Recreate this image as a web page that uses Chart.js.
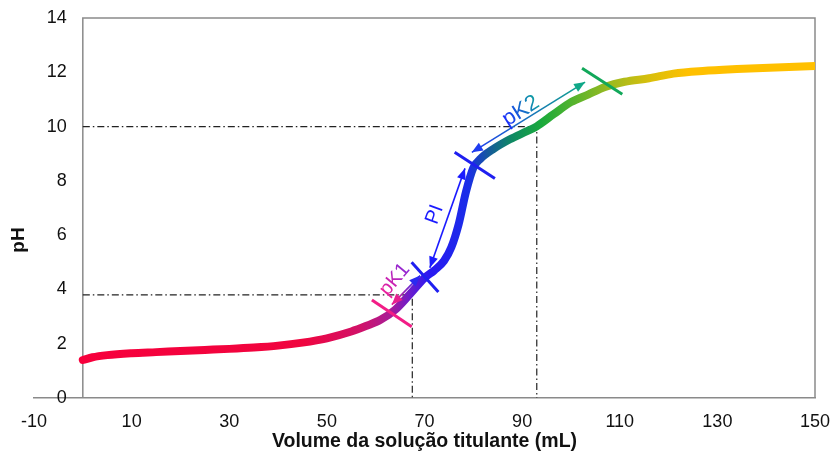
<!DOCTYPE html>
<html>
<head>
<meta charset="utf-8">
<script src="https://cdn.jsdelivr.net/npm/chart.js@4.4.0/dist/chart.umd.min.js"></script>
<style>
  html, body { margin: 0; padding: 0; background: #fff; }
  canvas { display: block; }
</style>
</head>
<body>
<canvas id="titrationChart" width="833" height="452"></canvas>
<script>
  // titration curve: volume of titrant (mL) vs pH
  const volume = [0, 2, 5, 10, 15, 20, 25, 30, 35, 40, 45, 50, 55, 58, 61, 64, 67, 70, 72, 74,
    75.5, 77, 78.5, 80, 81.5, 84, 87.5, 91, 93, 96.5, 100, 103.5, 107, 111, 116, 121, 127, 134, 142, 150];
  const pH = [1.40, 1.50, 1.58, 1.65, 1.69, 1.73, 1.77, 1.81, 1.86, 1.93, 2.04, 2.20, 2.45, 2.65, 2.88, 3.25, 3.82, 4.42, 4.70, 5.05,
    5.55, 6.40, 7.60, 8.48, 8.82, 9.16, 9.53, 9.83, 10.01, 10.46, 10.90, 11.18, 11.46, 11.65, 11.78, 11.95, 12.05, 12.12, 12.18, 12.23];

  const xTicks = [-10, 10, 30, 50, 70, 90, 110, 130, 150];
  const yTicks = [0, 2, 4, 6, 8, 10, 12, 14];

  // dash-dot guide lines [volume, pH]
  const guide1 = [67.5, 3.8];
  const guide2 = [93, 10];

  // curve colour keyed by volume
  const curveStops = [
    [0, '#f7003c'], [45, '#f0053f'], [57, '#d0126a'], [63, '#a81c96'], [67, '#6c1ccc'],
    [71, '#2a18f2'], [79, '#1a2ee8'], [83, '#16589e'], [88, '#0e8a62'], [94, '#1aaa3c'],
    [101, '#5ab42c'], [108, '#9cba20'], [116, '#d8bf0c'], [124, '#ffc000'], [150, '#ffc000']
  ];

  const FONT = '"Liberation Sans", Arial, sans-serif';

  function curveGradient(context) {
    const chart = context.chart;
    const { ctx, chartArea, scales } = chart;
    if (!chartArea) return curveStops[0][1];
    const x0 = scales.x.getPixelForValue(0);
    const x1 = scales.x.getPixelForValue(150);
    const g = ctx.createLinearGradient(x0, 0, x1, 0);
    curveStops.forEach(([v, c]) => g.addColorStop(v / 150, c));
    return g;
  }

  function arrowHead(c, fromX, fromY, tipX, tipY, color) {
    const a = Math.atan2(tipY - fromY, tipX - fromX);
    const len = 11, half = 4.5;
    c.beginPath();
    c.moveTo(tipX, tipY);
    c.lineTo(tipX - len * Math.cos(a) + half * Math.sin(a), tipY - len * Math.sin(a) - half * Math.cos(a));
    c.lineTo(tipX - len * Math.cos(a) - half * Math.sin(a), tipY - len * Math.sin(a) + half * Math.cos(a));
    c.closePath();
    c.fillStyle = color;
    c.fill();
  }

  function doubleArrow(c, a, b, colA, colB) {
    const g = c.createLinearGradient(a.x, a.y, b.x, b.y);
    g.addColorStop(0, colA);
    g.addColorStop(1, colB);
    c.strokeStyle = g;
    c.lineWidth = 1.6;
    c.beginPath();
    c.moveTo(a.x, a.y);
    c.lineTo(b.x, b.y);
    c.stroke();
    arrowHead(c, b.x, b.y, a.x, a.y, colA);
    arrowHead(c, a.x, a.y, b.x, b.y, colB);
  }

  function crossTick(c, p, angle, len, color) {
    const r = angle * Math.PI / 180;
    const dx = Math.cos(r) * len / 2, dy = Math.sin(r) * len / 2;
    c.strokeStyle = color;
    c.lineWidth = 3;
    c.beginPath();
    c.moveTo(p.x - dx, p.y - dy);
    c.lineTo(p.x + dx, p.y + dy);
    c.stroke();
  }

  function rotatedText(c, text, p, angle, size, colA, colB) {
    c.save();
    c.translate(p.x, p.y);
    c.rotate(angle * Math.PI / 180);
    c.font = size + 'px ' + FONT;
    c.textAlign = 'center';
    c.textBaseline = 'middle';
    const w = c.measureText(text).width;
    const g = c.createLinearGradient(-w / 2, 0, w / 2, 0);
    g.addColorStop(0, colA);
    g.addColorStop(1, colB);
    c.fillStyle = g;
    c.fillText(text, 0, 0);
    c.restore();
  }

  const framePlugin = {
    id: 'frame',
    beforeDatasetsDraw(chart) {
      const c = chart.ctx;
      const sx = chart.scales.x, sy = chart.scales.y;
      const left = sx.getPixelForValue(0), right = sx.getPixelForValue(150);
      const top = sy.getPixelForValue(14), bottom = sy.getPixelForValue(0);
      c.save();
      // plot box (bottom edge is the x axis)
      c.strokeStyle = '#8a8a8a';
      c.lineWidth = 1.5;
      c.beginPath();
      c.moveTo(left, bottom);
      c.lineTo(left, top);
      c.lineTo(right, top);
      c.lineTo(right, bottom);
      c.stroke();

      // y tick labels next to the vertical axis at x = 0
      c.fillStyle = '#111';
      c.font = '18px ' + FONT;
      c.textAlign = 'right';
      c.textBaseline = 'middle';
      yTicks.forEach(v => c.fillText(String(v), left - 16, sy.getPixelForValue(v)));

      // y title
      c.save();
      c.translate(19, 240);
      c.rotate(-Math.PI / 2);
      c.font = 'bold 19px ' + FONT;
      c.textAlign = 'center';
      c.fillText('pH', 0, 0);
      c.restore();

      // dash-dot guides
      c.strokeStyle = '#222';
      c.lineWidth = 1.2;
      c.setLineDash([7, 3, 1.5, 3]);
      [guide1, guide2].forEach(([v, p]) => {
        const gx = sx.getPixelForValue(v), gy = sy.getPixelForValue(p);
        c.beginPath();
        c.moveTo(left, gy);
        c.lineTo(gx, gy);
        c.lineTo(gx, bottom);
        c.stroke();
      });
      c.restore();
    },
    afterDatasetsDraw(chart) {
      const c = chart.ctx;
      const sx = chart.scales.x, sy = chart.scales.y;
      const pt = (v, p) => ({ x: sx.getPixelForValue(v), y: sy.getPixelForValue(p) });
      c.save();
      c.lineCap = 'butt';

      crossTick(c, pt(63.3, 3.12), 34, 48, '#f21d86');
      crossTick(c, pt(70.1, 4.45), 48, 40, '#1f1ff0');
      crossTick(c, pt(80.3, 8.57), 33, 48, '#1f1ff0');
      crossTick(c, pt(106.4, 11.67), 33, 48, '#12a85a');

      doubleArrow(c, pt(63.3, 3.44), pt(69.1, 4.51), '#e8208e', '#2a2af0');
      doubleArrow(c, pt(71.1, 4.80), pt(78.3, 8.46), '#1a1aff', '#1a1aff');
      doubleArrow(c, pt(79.7, 9.05), pt(102.9, 11.64), '#1f3cf0', '#10a888');

      rotatedText(c, 'pK1', pt(63.9, 4.36), -50, 20, '#f0209a', '#8a2ad8');
      rotatedText(c, 'PI', pt(72.1, 6.76), -70, 20, '#1a1aff', '#1a1aff');
      rotatedText(c, 'pK2', pt(89.75, 10.57), -32, 22, '#1a2aff', '#10a0a0');
      c.restore();
    }
  };

  const ctx = document.getElementById('titrationChart').getContext('2d');
  const titrationChart = new Chart(ctx, {
    type: 'line',
    data: {
      datasets: [{
        label: 'pH',
        data: volume.map((v, i) => ({ x: v, y: pH[i] })),
        borderColor: curveGradient,
        borderWidth: 8,
        borderCapStyle: 'round',
        borderJoinStyle: 'round',
        cubicInterpolationMode: 'monotone',
        pointRadius: 0,
        fill: false
      }]
    },
    options: {
      responsive: false,
      animation: false,
      devicePixelRatio: 1,
      layout: { padding: { left: 34, right: 18, top: 18, bottom: 0 } },
      plugins: { legend: { display: false }, tooltip: { enabled: false } },
      scales: {
        x: {
          type: 'linear',
          min: -10,
          max: 150,
          afterBuildTicks: axis => { axis.ticks = xTicks.map(v => ({ value: v })); },
          afterFit: axis => {
            axis.height = 54;
            axis.paddingLeft = 0;
            axis.paddingRight = 0;
          },
          grid: { display: false, drawTicks: false },
          border: { display: true, color: '#8a8a8a', width: 1.5 },
          ticks: { color: '#111', font: { family: FONT, size: 18, lineHeight: 1 }, padding: 15, maxRotation: 0, autoSkip: false },
          title: {
            display: true,
            text: 'Volume da solução titulante (mL)',
            color: '#111',
            font: { family: FONT, size: 19.5, weight: 'bold', lineHeight: 1 },
            padding: { top: 0, bottom: 1 }
          }
        },
        y: {
          type: 'linear',
          min: 0,
          max: 14,
          display: false
        }
      }
    },
    plugins: [framePlugin]
  });
</script>
</body>
</html>
